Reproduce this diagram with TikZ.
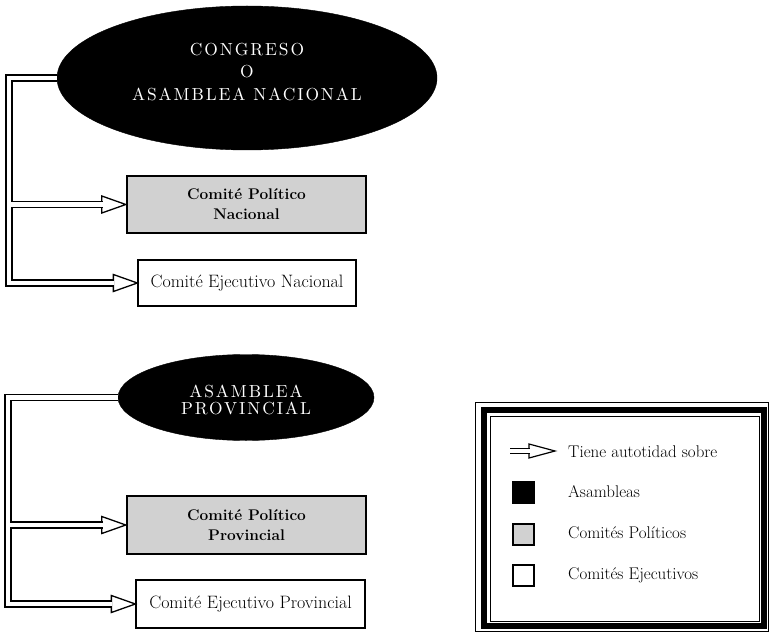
\documentclass[tikz,border=0pt]{standalone}
\usepackage{fontspec}
\usetikzlibrary{shapes.geometric,calc}
\newfontfamily\ellfam{lmroman10-regular.otf}[LetterSpace=11]
\newcommand\ellfontA{\ellfam\fontsize{17.5}{23}\selectfont}
\newcommand\ellfontB{\ellfam\fontsize{17.5}{17}\selectfont}
\newcommand\polfont{\bfseries\fontsize{15.5}{20}\selectfont}
\newcommand\ejefont{\fontsize{18}{20}\selectfont}
\newcommand\lgfont{\fontsize{17}{18}\selectfont}
\tikzset{
  ahead/.pic={\draw[line width=1.3bp, fill=white, line join=miter] (-24,-8.5) -- (0,0) -- (-24,8.5) -- cycle;},
  aheadsmall/.pic={\draw[line width=1.2bp, fill=white, line join=miter] (-26,-7) -- (0,0) -- (-26,7) -- cycle;}
}
\begin{document}
\begin{tikzpicture}[x=1bp,y=-1bp,
  dbl/.style={draw=black, line width=1.3bp, double=white, double distance=4.6bp},
  ell/.style={ellipse, fill=black, draw=black, inner sep=0pt},
  elltext/.style={text=white, align=center, inner sep=0pt},
  polbox/.style={rectangle, draw=black, line width=2.4bp, fill=black!18, inner sep=0pt, align=center, font=\polfont},
  ejebox/.style={rectangle, draw=black, line width=1.3bp, fill=white, inner sep=0pt, font=\ejefont},
  lgsq/.style={rectangle, draw=black, line width=1.2bp, minimum width=21bp, minimum height=21bp, inner sep=0pt},
  lgtext/.style={anchor=base west, inner sep=0pt, font=\lgfont}
]
\useasboundingbox (0,0) rectangle (770,632);

% ---- Nacional ----
\node[ell, minimum width=380bp, minimum height=144bp] (topell) at (247,78) {};
\node[elltext, font=\ellfontA] (topelltext) at (247,72) {CONGRESO\\O\\ASAMBLEA NACIONAL};
\node[polbox, minimum width=239bp, minimum height=57bp] (pn) at (246.5,204.5) {Comité Político\\Nacional};
\node[ejebox, minimum width=218bp, minimum height=46bp] (en) at (247,283) {Comité Ejecutivo Nacional};

% ---- Provincial ----
\node[ell, minimum width=256bp, minimum height=86bp] (botell) at (246,397.5) {};
\node[elltext, font=\ellfontB] (botelltext) at (246,399.5) {ASAMBLEA\\PROVINCIAL};
\node[polbox, minimum width=239bp, minimum height=58bp] (pp) at (246.5,525) {Comité Político\\Provincial};
\node[ejebox, minimum width=229bp, minimum height=48bp] (ep) at (250.5,604) {Comité Ejecutivo Provincial};

% ---- arrow heads ----
\pic at (pn.west) {ahead};
\pic at (en.west) {ahead};
\pic at (pp.west) {ahead};
\pic at (ep.west) {ahead};

% ---- connectors ----
\coordinate (lxN) at (9,0);
\coordinate (lxP) at (8,0);
\draw[dbl] (topell.west) -- (topell.west -| lxN) |- ($(en.west)+(-23,0)$);
\draw[dbl] ($(pn.west -| lxN)+(2.4,0)$) -- ($(pn.west)+(-23,0)$);
\draw[dbl] (botell.west) -- (botell.west -| lxP) |- ($(ep.west)+(-23,0)$);
\draw[dbl] ($(pp.west -| lxP)+(2.4,0)$) -- ($(pp.west)+(-23,0)$);

% ---- legend frame ----
\draw[line width=1bp] (475.5,402.5) rectangle (768.5,631.5);
\draw[line width=6bp] (484,410) rectangle (764,626);
\draw[line width=1bp] (490,416.5) rectangle (759.5,621);

% ---- legend items ----
\coordinate (lgA) at (510,451);
\coordinate (lgB) at (555,451);
\pic at (lgB) {aheadsmall};
\draw[dbl, line width=1.2bp, double distance=4bp] (lgA) -- ($(lgB)+(-25,0)$);
\node[lgtext] (lgT1) at (568,457) {Tiene autotidad sobre};
\node[lgsq, fill=black] (lgAsam) at (523.5,492.5) {};
\node[lgtext] (lgT2) at (568,497) {Asambleas};
\node[lgsq, fill=black!18] (lgPol) at (523.5,534.5) {};
\node[lgtext] (lgT3) at (568,538) {Comités Políticos};
\node[lgsq, fill=white] (lgEje) at (523.5,575.5) {};
\node[lgtext] (lgT4) at (568,579) {Comités Ejecutivos};
\end{tikzpicture}
\end{document}
